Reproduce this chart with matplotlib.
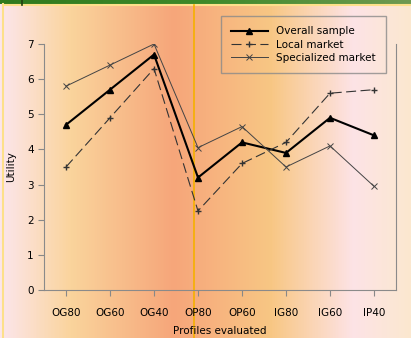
import numpy as np
import matplotlib
matplotlib.use('Agg')
import matplotlib.pyplot as plt
from matplotlib.colors import LinearSegmentedColormap

# data
profiles = ['OG80', 'OG60', 'OG40', 'OP80', 'OP60', 'IG80', 'IG60', 'IP40']
overall = [4.7, 5.7, 6.7, 3.2, 4.2, 3.9, 4.9, 4.4]
local = [3.5, 4.9, 6.3, 2.25, 3.6, 4.2, 5.6, 5.7]
specialized = [5.8, 6.4, 7.0, 4.05, 4.65, 3.5, 4.1, 2.95]

W, H = 411, 338
fig = plt.figure(figsize=(W / 100, H / 100), dpi=100)

# background gradient over the whole figure
bg = fig.add_axes([0, 0, 1, 1])
stops = [(0.0, '#fce6ec'), (0.17, '#fad49c'), (0.42, '#f6a67a'),
         (0.50, '#f7b07e'), (0.66, '#f8c784'), (0.86, '#fde3e6'),
         (1.0, '#fbe8cf')]
cmap = LinearSegmentedColormap.from_list('bg', stops)
grad = np.linspace(0, 1, 400)[None, :]
bg.imshow(grad, aspect='auto', cmap=cmap, extent=[0, 1, 0, 1])
# green strip on top and yellow frame
gcmap = LinearSegmentedColormap.from_list('g', ['#2f7a1e', '#3f8a2a', '#6f9a52'])
bg.imshow(np.linspace(0, 1, 200)[None, :], aspect='auto', cmap=gcmap,
          extent=[0, 1, 1 - 4 / H, 1])
bg.plot([3 / W, 3 / W], [0, 1 - 4 / H], color='#fde08a', lw=1.5)
bg.plot([3 / W, 1], [1 - 5 / H, 1 - 5 / H], color='#fde08a', lw=1.5)
bg.plot([22 / W, 22 / W], [1 - 5 / H, 1], color='#1f3f10', lw=1.2)
bg.set_xlim(0, 1)
bg.set_ylim(0, 1)
bg.axis('off')

ax = fig.add_axes([44 / W, 1 - 290 / H, 352 / W, 246 / H])
ax.patch.set_alpha(0)
x = np.arange(len(profiles)) + 0.5

ax.plot(x, overall, color='black', lw=1.5, marker='^', ms=5,
        label='Overall sample')
ax.plot(x, local, color='#333333', lw=0.8, ls=(0, (9, 4)), marker='+', ms=4,
        mew=1, label='Local market')
ax.plot(x, specialized, color='#444444', lw=0.7, marker='x', ms=4, mew=0.7,
        label='Specialized market')

ax.set_xlim(0, 8)
ax.set_ylim(0, 7)
ax.set_xticks(x)
ax.set_xticklabels(profiles, fontsize=7.5)
ax.set_yticks(range(8))
ax.tick_params(axis='y', labelsize=7.5, length=4, color='#888888')
ax.tick_params(axis='x', length=4, color='#888888', pad=9)
for s in ['left', 'bottom', 'right']:
    ax.spines[s].set_color('#8a8a8a')
ax.spines['top'].set_visible(False)
ax.set_ylabel('Utility', fontsize=7.5, labelpad=8)
ax.set_xlabel('Profiles evaluated', fontsize=7.5, labelpad=6)

leg = ax.legend(loc='upper right', bbox_to_anchor=(386 / W, 1 - 16 / H),
                bbox_transform=fig.transFigure, fontsize=7.5, frameon=True,
                fancybox=False, shadow=False, handlelength=3.5,
                borderpad=1.0, labelspacing=0.3, borderaxespad=0)
leg.get_frame().set_edgecolor('#8a8a8a')
leg.get_frame().set_facecolor('none')
leg.get_frame().set_linewidth(1.0)

# orange vertical line
bg.plot([194 / W, 194 / W], [0, 1 - 5 / H], color='#f5b000', lw=1.2, zorder=5)

fig.savefig('out.png', dpi=100)
